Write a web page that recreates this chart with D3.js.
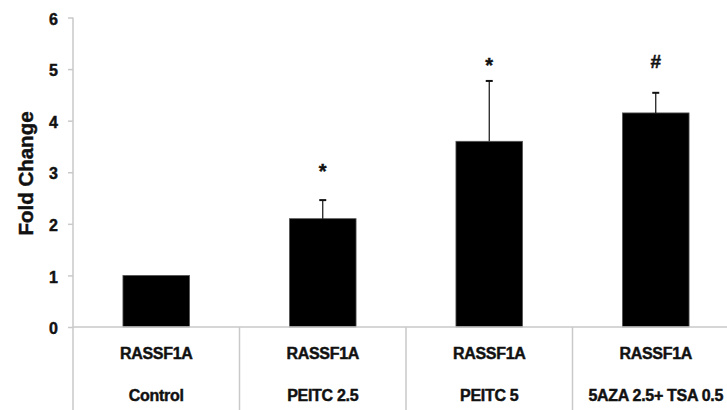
<!DOCTYPE html>
<html>
<head>
<meta charset="utf-8">
<script src="https://cdn.jsdelivr.net/npm/d3@7"></script>
<style>
  html, body { margin: 0; padding: 0; background: #fff; }
  svg { display: block; font-family: "Liberation Sans", Arial, sans-serif; }
  .heavy { stroke: #111; stroke-width: 0.45px; paint-order: stroke; }
</style>
</head>
<body>
<svg id="chart" width="727" height="410"></svg>
<script>
// Fold change of RASSF1A expression per treatment
const gene = ["RASSF1A", "RASSF1A", "RASSF1A", "RASSF1A"];
const treatments = ["Control", "PEITC 2.5", "PEITC 5", "5AZA 2.5+ TSA 0.5"];
const foldChange = [1.0, 2.10, 3.60, 4.15];
const errorUpper = [0, 0.36, 1.17, 0.39];
const marks = ["", "*", "*", "#"];
const markLevel = [null, 3.1, 5.15, 5.15];
const yTicks = [0, 1, 2, 3, 4, 5, 6];

const svg = d3.select("#chart");
const axisColor = "#c9c9c9";

const x = d3.scaleBand()
  .domain(treatments)
  .range([73, 739])
  .paddingInner(0.6)
  .paddingOuter(0.3);

const y = d3.scaleLinear()
  .domain([0, 6])
  .range([327, 17.5]);

// y axis with ticks on the left
const yAxis = svg.append("g")
  .attr("transform", "translate(73,0)")
  .call(d3.axisLeft(y).tickValues(yTicks).tickSize(5).tickPadding(10).tickFormat(d3.format("d")));
yAxis.select(".domain").remove();
yAxis.selectAll(".tick line").attr("stroke", axisColor).attr("stroke-width", 1.5);
yAxis.selectAll(".tick text")
  .attr("fill", "#111")
  .attr("class", "heavy")
  .attr("dy", "0.42em")
  .style("font-size", "16px")
  .style("font-weight", "bold");

// vertical axis line runs down through the label table
svg.append("line")
  .attr("x1", 73).attr("x2", 73)
  .attr("y1", y(6)).attr("y2", 410)
  .attr("stroke", axisColor).attr("stroke-width", 1.5);

// y title
svg.append("text")
  .attr("transform", `translate(33,${173.5}) rotate(-90)`)
  .attr("text-anchor", "middle")
  .attr("class", "heavy")
  .style("font-size", "20.5px")
  .style("font-weight", "bold")
  .attr("fill", "#111")
  .text("Fold Change");

// bars
svg.append("g").selectAll("rect")
  .data(foldChange)
  .join("rect")
  .attr("x", (d, i) => x(treatments[i]))
  .attr("width", x.bandwidth())
  .attr("y", d => y(d))
  .attr("height", d => y(0) - y(d))
  .attr("fill", "#000")
  .attr("stroke", "#555")
  .attr("stroke-width", 0.8);

// upper error bars
const eb = svg.append("g").attr("stroke", "#111").attr("stroke-width", 1.2);
foldChange.forEach((v, i) => {
  if (!errorUpper[i]) return;
  const cx = x(treatments[i]) + x.bandwidth() / 2;
  eb.append("line")
    .attr("x1", cx).attr("x2", cx)
    .attr("y1", y(v)).attr("y2", y(v + errorUpper[i]));
  eb.append("line")
    .attr("x1", cx - 3.5).attr("x2", cx + 3.5)
    .attr("y1", y(v + errorUpper[i])).attr("y2", y(v + errorUpper[i]))
    .attr("stroke-width", 2);
});

// significance marks
marks.forEach((m, i) => {
  if (!m) return;
  const cx = x(treatments[i]) + x.bandwidth() / 2;
  svg.append("text")
    .attr("x", cx)
    .attr("y", y(markLevel[i]) + (m === "*" ? 11 : 7))
    .attr("text-anchor", "middle")
    .attr("class", "heavy")
    .style("font-size", m === "*" ? "20px" : "19px")
    .style("font-weight", "bold")
    .attr("fill", "#111")
    .text(m);
});

// x axis baseline
svg.append("line")
  .attr("x1", 73).attr("x2", 739)
  .attr("y1", y(0)).attr("y2", y(0))
  .attr("stroke", axisColor).attr("stroke-width", 1.5);

// table dividers between categories
const step = x.step();
treatments.slice(1).forEach((t, i) => {
  const sx = x(t) + x.bandwidth() / 2 - step / 2;
  svg.append("line")
    .attr("x1", sx).attr("x2", sx)
    .attr("y1", y(0)).attr("y2", 410)
    .attr("stroke", axisColor).attr("stroke-width", 1.5);
});

// category label rows
const labels = svg.append("g")
  .attr("text-anchor", "middle")
  .attr("fill", "#111")
  .attr("class", "heavy")
  .style("font-weight", "bold")
  .style("font-size", "16px");
treatments.forEach((t, i) => {
  const cx = x(t) + x.bandwidth() / 2;
  labels.append("text").attr("x", cx).attr("y", 358.5)
    .style("letter-spacing", "-0.3px").text(gene[i]);
  labels.append("text").attr("x", cx).attr("y", 401)
    .style("letter-spacing", "-0.3px").text(t);
});
</script>
</body>
</html>
